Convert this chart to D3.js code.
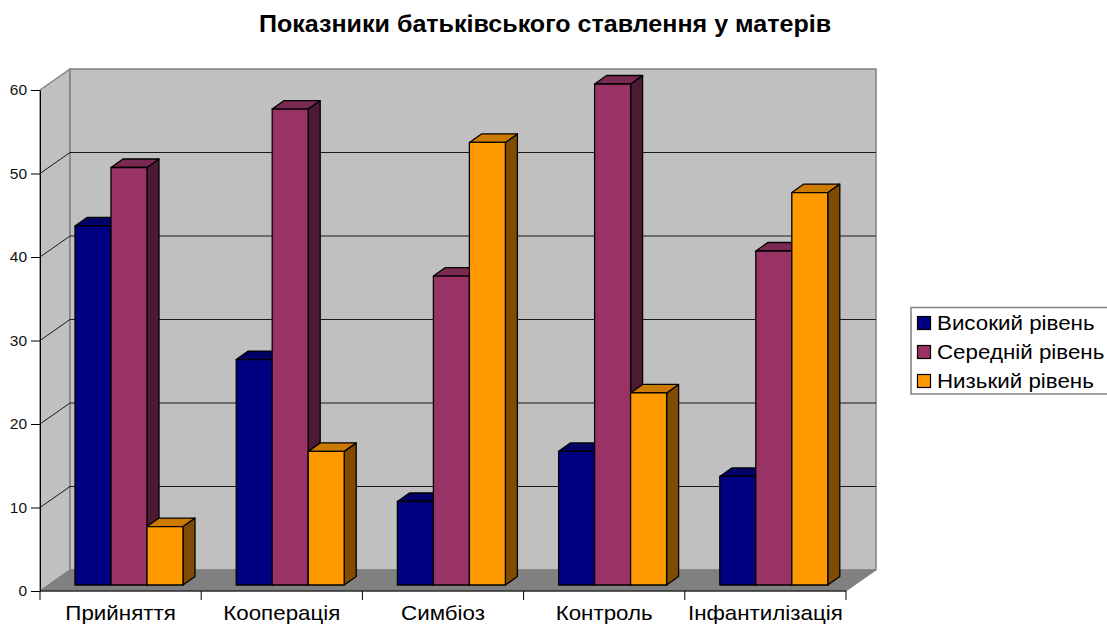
<!DOCTYPE html>
<html>
<head>
<meta charset="utf-8">
<script src="https://cdn.jsdelivr.net/npm/d3@7"></script>
<style>
body { margin: 0; background: #fff; }
svg { display: block; font-family: "Liberation Sans", Arial, sans-serif; }
/* the reference text looks stretched sideways a bit */
svg text { transform-box: fill-box; transform: scaleX(1.09); }
.mid { transform-origin: center; }
.end { transform-origin: right center; }
.start { transform-origin: left center; }
</style>
</head>
<body>
<svg id="chart" width="1107" height="625"></svg>
<script>
const categories = ["Прийняття", "Кооперація", "Симбіоз", "Контроль", "Інфантилізація"];
const seriesNames = ["Високий рівень", "Середній рівень", "Низький рівень"];
const highValues = [43, 27, 10, 16, 13];
const midValues = [50, 57, 37, 60, 40];
const lowValues = [7, 16, 53, 23, 47];
const yTicks = [0, 10, 20, 30, 40, 50, 60];
const frontColors = ["#000080", "#993366", "#ff9900"];
const topColors = ["#000066", "#7a2952", "#cc7a00"];
const sideColors = ["#00003f", "#4d1a33", "#804d00"];

const seriesValues = [highValues, midValues, lowValues];

const svg = d3.select("#chart");

const x = d3.scaleBand().domain(categories).range([40, 846]);
const y = d3.scaleLinear().domain([0, 60]).range([591, 90]);
const inner = d3.scaleBand().domain(d3.range(3)).range([35, 143]);

// 3d offsets
const wallDx = 30, wallDy = -21;
const barBaseShift = -6;
const depthDx = 12, depthDy = -8.5;

const poly = (pts, fill, stroke, sw) => svg.append("polygon")
    .attr("points", pts.map(p => p.join(",")).join(" "))
    .attr("fill", fill)
    .attr("stroke", stroke)
    .attr("stroke-width", sw)
    .attr("stroke-linejoin", "round");

const x0 = x.range()[0], x1 = x.range()[1];
const y0 = y(0), yTop = y(60);

// walls and floor
poly([[x0, y0], [x0 + wallDx, y0 + wallDy], [x0 + wallDx, yTop + wallDy], [x0, yTop]], "#c0c0c0", "#808080", 1.5);
poly([[x0 + wallDx, y0 + wallDy], [x1 + wallDx, y0 + wallDy], [x1 + wallDx, yTop + wallDy], [x0 + wallDx, yTop + wallDy]], "#c0c0c0", "#808080", 1.5);
poly([[x0, y0], [x1, y0], [x1 + wallDx, y0 + wallDy], [x0 + wallDx, y0 + wallDy]], "#808080", "#808080", 1);

// gridlines
yTicks.filter(t => t > 0 && t < 60).forEach(t => {
    svg.append("path")
        .attr("d", d3.line()([[x0, y(t)], [x0 + wallDx, y(t) + wallDy], [x1 + wallDx, y(t) + wallDy]]))
        .attr("fill", "none")
        .attr("stroke", "#1a1a1a")
        .attr("stroke-width", 1);
});

// bars
categories.forEach((c, i) => {
    seriesValues.forEach((vals, s) => {
        const left = x(c) + inner(s);
        const right = left + inner.bandwidth();
        const top = y(vals[i]) + barBaseShift;
        const base = y(0) + barBaseShift;
        poly([[right, base], [right + depthDx, base + depthDy], [right + depthDx, top + depthDy], [right, top]], sideColors[s], "#000", 1.3);
        poly([[left, top], [right, top], [right + depthDx, top + depthDy], [left + depthDx, top + depthDy]], topColors[s], "#000", 1.3);
        poly([[left, base], [right, base], [right, top], [left, top]], frontColors[s], "#000", 1.3);
    });
});

// axes
const axisLeft = svg.append("g")
    .attr("transform", `translate(${x0},0)`)
    .call(d3.axisLeft(y).tickValues(yTicks).tickSize(9).tickSizeOuter(0).tickPadding(4));
axisLeft.selectAll("line, path").attr("stroke", "#000");
axisLeft.selectAll("text").attr("class", "end").attr("font-size", 14.2).attr("font-family", "Liberation Sans").attr("fill", "#111");

const xEdges = d3.range(categories.length + 1).map(i => x0 + i * x.step());
svg.append("line").attr("x1", x0).attr("x2", x1).attr("y1", y0).attr("y2", y0).attr("stroke", "#000");
svg.selectAll(".xtick").data(xEdges).enter().append("line")
    .attr("class", "xtick")
    .attr("x1", d => d).attr("x2", d => d)
    .attr("y1", y0).attr("y2", y0 + 9)
    .attr("stroke", "#000");

svg.selectAll(".xlabel").data(categories).enter().append("text")
    .attr("class", "xlabel mid")
    .attr("x", d => x(d) + x.bandwidth() / 2)
    .attr("y", 620.5)
    .attr("text-anchor", "middle")
    .attr("font-size", 20.5)
    .attr("fill", "#000")
    .text(d => d);

// title
svg.append("text")
    .attr("class", "mid")
    .attr("x", 545)
    .attr("y", 32.5)
    .attr("text-anchor", "middle")
    .attr("font-size", 23)
    .attr("font-weight", "bold")
    .attr("fill", "#000")
    .text("Показники батьківського ставлення у матерів");

// legend
svg.append("rect")
    .attr("x", 911).attr("y", 307.5).attr("width", 197).attr("height", 86.5)
    .attr("fill", "#fff").attr("stroke", "#808080").attr("stroke-width", 1.5);
const legendY = d3.scalePoint().domain(seriesNames).range([323, 381]);
seriesNames.forEach((n, s) => {
    svg.append("rect")
        .attr("x", 917.5).attr("y", legendY(n) - 6.5).attr("width", 13).attr("height", 13)
        .attr("fill", frontColors[s]).attr("stroke", "#000").attr("stroke-width", 1.2);
    svg.append("text")
        .attr("class", "start")
        .attr("x", 937).attr("y", legendY(n) + 7)
        .attr("font-size", 20.5)
        .attr("fill", "#000")
        .text(n);
});
</script>
</body>
</html>
